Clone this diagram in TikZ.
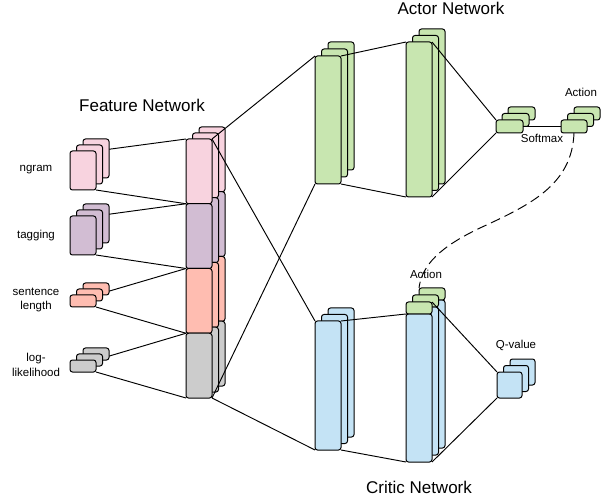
\documentclass[tikz,border=0pt]{standalone}
\usepackage{fontspec}
\setmainfont{Liberation Sans}
\usetikzlibrary{backgrounds}

\definecolor{featpink}{HTML}{F8D3DF}
\definecolor{featpurple}{HTML}{D2BDD3}
\definecolor{featsalmon}{HTML}{FFBDB1}
\definecolor{featgray}{HTML}{CCCCCC}
\definecolor{actgreen}{HTML}{C8E6B0}
\definecolor{critblue}{HTML}{C4E3F5}

\tikzset{
  layer/.style={draw, rounded corners=2.5pt, inner sep=0pt, outer sep=0pt, line width=1pt, anchor=north west},
  link/.style={line width=0.95pt},
  lbl/.style={font=\fontsize{11.5}{14.5}\selectfont, align=center},
  title/.style={font=\fontsize{17}{20}\selectfont},
}

\begin{document}
\begin{tikzpicture}[x=1pt,y=-1pt]
    \useasboundingbox (0,0) rectangle (611,497);

    % Input features
    \foreach \k in {2,1,0} {
        \node[layer, fill=featpink, minimum width=26pt, minimum height=39pt] (ngram\k) at ({70+6.5*\k},{151-6*\k}) {};
        \node[layer, fill=featpurple, minimum width=26pt, minimum height=39pt] (tag\k) at ({70+6.5*\k},{216-6*\k}) {};
        \node[layer, fill=featsalmon, minimum width=26pt, minimum height=12pt] (sent\k) at ({70+6.5*\k},{295-6*\k}) {};
        \node[layer, fill=featgray, minimum width=26pt, minimum height=12pt] (logl\k) at ({70+6.5*\k},{360-6*\k}) {};
    }
    \node[lbl] (ngramlbl) at (36,170) {ngram};
    \node[lbl] (taglbl) at (36,236) {tagging};
    \node[lbl] (sentlbl) at (36,300) {sentence\\length};
    \node[lbl] (logllbl) at (36,365) {log-\\likelihood};

    % Feature network column
    \foreach \k in {2,1,0} {
        \foreach \c [count=\i] in {featpink,featpurple,featsalmon,featgray}
            \node[layer, fill=\c, minimum width=26pt, minimum height=64.75pt] (feat\i-\k) at ({186+6.5*\k},{139+64.75*(\i-1)-6*\k}) {};
    }
    \node[title] (feattitle) at (142,105) {Feature Network};

    \begin{pgfonlayer}{background}
        \draw[link] (ngram0.north east) -- (feat1-0.north west);
        \draw[link] (ngram0.south east) -- (feat1-0.south west);
        \draw[link] (tag0.north east) -- (feat2-0.north west);
        \draw[link] (tag0.south east) -- (feat2-0.south west);
        \draw[link] (sent0.north east) -- (feat3-0.north west);
        \draw[link] (sent0.south east) -- (feat3-0.south west);
        \draw[link] (logl0.north east) -- (feat4-0.north west);
        \draw[link] (logl0.south east) -- (feat4-0.south west);
    \end{pgfonlayer}

    % Actor network
    \foreach \k in {2,1,0} {
        \node[layer, fill=actgreen, minimum width=26pt, minimum height=128pt] (actA\k) at ({315+6.5*\k},{56-7*\k}) {};
        \node[layer, fill=actgreen, minimum width=26pt, minimum height=155pt] (actB\k) at ({406+6.5*\k},{42-6.5*\k}) {};
        \node[layer, fill=actgreen, minimum width=27pt, minimum height=13pt] (soft\k) at ({496+6*\k},{120-6.5*\k}) {};
        \node[layer, fill=actgreen, minimum width=26pt, minimum height=13pt] (act\k) at ({561+6.5*\k},{120-6.5*\k}) {};
    }
    \node[title] (acttitle) at (451,8) {Actor Network};
    \node[lbl] (softlbl) at (542,138) {Softmax};
    \node[lbl] (actlbl) at (581,92) {Action};

    % Critic network
    \foreach \k in {2,1,0} {
        \node[layer, fill=critblue, minimum width=26pt, minimum height=129pt] (critA\k) at ({315+6.5*\k},{321-6.5*\k}) {};
        \node[layer, fill=critblue, minimum width=26pt, minimum height=148pt] (critB\k) at ({406+6.5*\k},{314-7*\k}) {};
        \node[layer, fill=actgreen, minimum width=26pt, minimum height=12pt] (ccap\k) at ({406+6.5*\k},{302-7*\k}) {};
        \node[layer, fill=critblue, minimum width=25pt, minimum height=26pt] (qval\k) at ({497+6.5*\k},{372-6.5*\k}) {};
    }
    \node[title] (crittitle) at (419,487) {Critic Network};
    \node[lbl] (cactlbl) at (426,274) {Action};
    \node[lbl] (qlbl) at (516,345) {Q-value};

    % Connections
    \draw[link] (feat1-0.north east) -- (actA0.north west);
    \draw[link] (feat1-0.north east) -- (critA0.north west);
    \draw[link] (feat4-0.south east) -- (actA0.south west);
    \draw[link] (feat4-0.south east) -- (critA0.south west);

    \draw[link] (actA0.north east) -- (actB0.north west);
    \draw[link] (actA0.south east) -- (actB0.south west);
    \draw[link] (actB0.north east) -- (soft0.north west);
    \draw[link] (actB0.south east) -- (soft0.south west);
    \draw[link] (soft0.east) -- (act0.west);

    \draw[link] (critA0.north east) -- (critB0.north west);
    \draw[link] (critA0.south east) -- (critB0.south west);
    \draw[link] (ccap0.north east) -- (qval0.north west);
    \draw[link] (critB0.south east) -- (qval0.south west);

    % Action fed into the critic
    \draw[link, dash pattern=on 10pt off 5pt] (act0.south) .. controls (572,185) and (530,205) .. (480,228)
        .. controls (440,247) and (422,265) .. (ccap2.north west);
\end{tikzpicture}
\end{document}
